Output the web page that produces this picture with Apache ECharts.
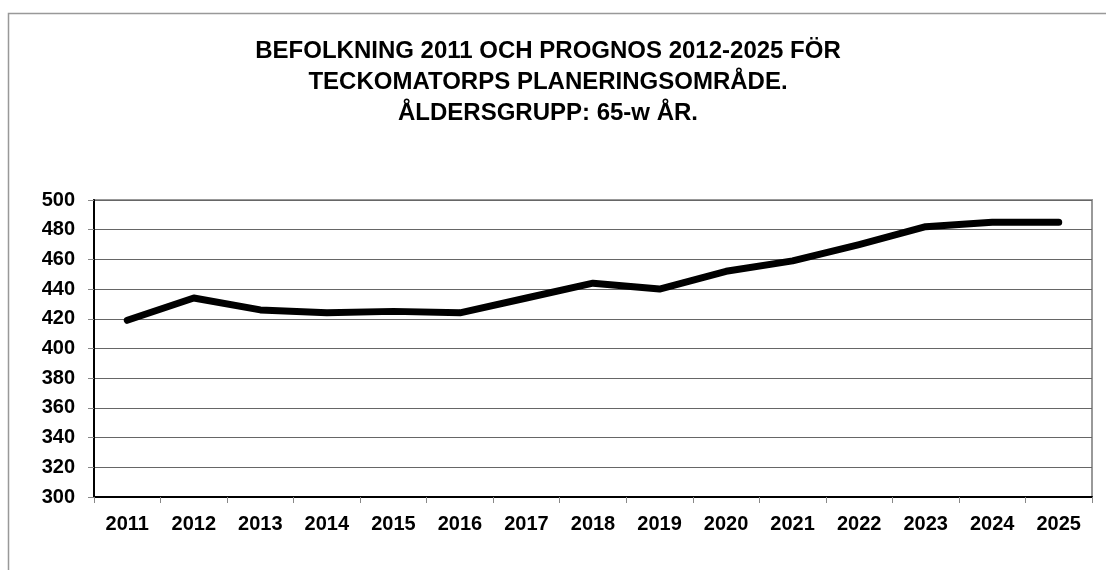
<!DOCTYPE html>
<html>
<head>
<meta charset="utf-8">
<script src="https://cdn.jsdelivr.net/npm/echarts@6/dist/echarts.min.js"></script>
<style>
  html, body { margin: 0; padding: 0; background: #fff; }
  #chart { width: 1106px; height: 570px; }
</style>
</head>
<body>
<div id="chart"></div>
<script>
// befolkning 65-w år, Teckomatorp
const years = ['2011', '2012', '2013', '2014', '2015', '2016', '2017', '2018',
  '2019', '2020', '2021', '2022', '2023', '2024', '2025'];
const population = [419, 434, 426, 424, 425, 424, 434, 444, 440, 452, 459, 470, 482, 485, 485];
const titleLines = [
  'BEFOLKNING 2011 OCH PROGNOS 2012-2025 FÖR',
  'TECKOMATORPS PLANERINGSOMRÅDE.',
  'ÅLDERSGRUPP: 65-w ÅR.'
];

const font = '"Liberation Sans", Arial, sans-serif';
const chart = echarts.init(document.getElementById('chart'));

chart.setOption({
  animation: false,
  backgroundColor: '#fff',
  graphic: [{
    type: 'rect',
    shape: { x: 8.5, y: 13.5, width: 1200, height: 600 },
    style: { fill: 'none', stroke: '#999', lineWidth: 1.5 },
    silent: true
  }],
  title: {
    text: titleLines.join('\n'),
    left: 543, top: 31,
    textAlign: 'center',
    textStyle: {
      fontFamily: font, fontWeight: 'bold', fontSize: 24,
      lineHeight: 31, color: '#000'
    }
  },
  grid: {
    left: 94, right: 14, top: 200, bottom: 73,
    show: true, borderColor: '#999', borderWidth: 2
  },
  xAxis: {
    type: 'category',
    data: years,
    boundaryGap: true,
    axisLine: { lineStyle: { color: '#000', width: 2 } },
    axisTick: { show: true, length: 6, lineStyle: { color: '#888', width: 1 } },
    axisLabel: {
      margin: 17, color: '#000', fontFamily: font,
      fontWeight: 'bold', fontSize: 20
    },
    splitLine: { show: false }
  },
  yAxis: {
    type: 'value',
    min: 300, max: 500, interval: 20,
    axisLine: { show: true, lineStyle: { color: '#000', width: 2 } },
    axisTick: { show: true, length: 6, lineStyle: { color: '#888', width: 1 } },
    axisLabel: {
      margin: 19, color: '#000', fontFamily: font,
      fontWeight: 'bold', fontSize: 20
    },
    splitLine: { show: true, lineStyle: { color: '#666', width: 1 } }
  },
  series: [{
    type: 'line',
    data: population,
    symbol: 'none',
    lineStyle: { color: '#000', width: 7, cap: 'round', join: 'round' }
  }]
});
</script>
</body>
</html>
